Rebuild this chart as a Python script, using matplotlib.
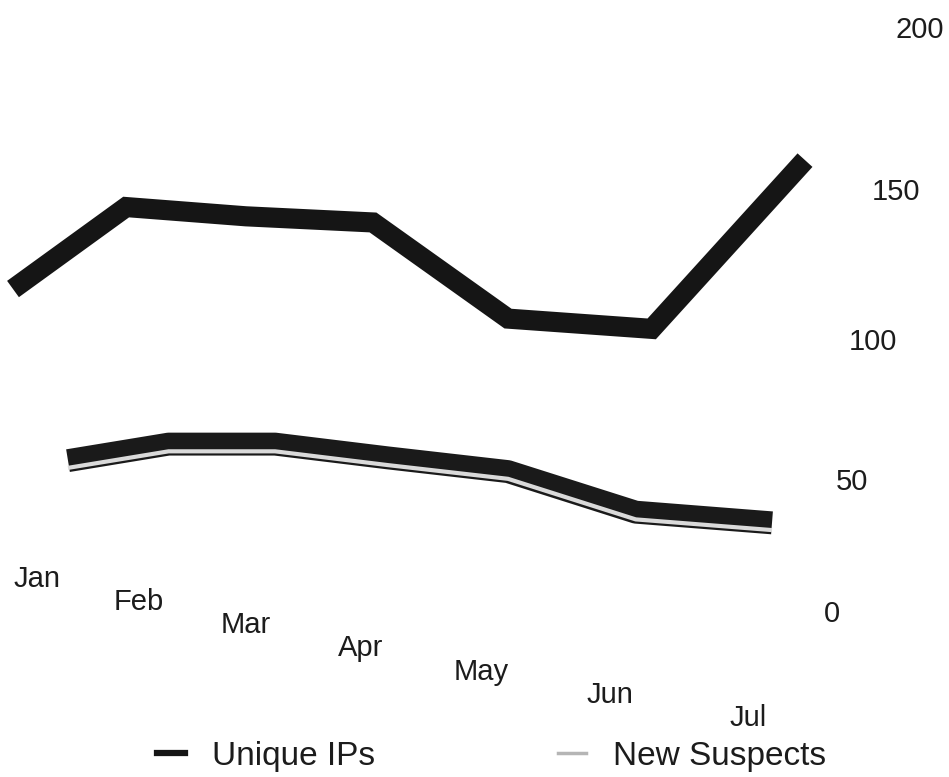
import numpy as np
import matplotlib
matplotlib.use("Agg")
import matplotlib.pyplot as plt
from matplotlib.lines import Line2D
from matplotlib.transforms import offset_copy

# ---- data ----
months = ["Jan", "Feb", "Mar", "Apr", "May", "Jun", "Jul"]
unique_ips = [118, 145, 142, 140, 108, 104.5, 160]
new_suspects = [58, 64, 64, 59, 54, 39, 35]
y_ticks = [0, 50, 100, 150, 200]
series_names = ["Unique IPs", "New Suspects"]

plt.rcParams['font.family'] = ['Liberation Sans', 'DejaVu Sans']
TXT = '#1c1c1c'

W, H = 949, 777
fig = plt.figure(figsize=(W / 100, H / 100), dpi=100)
fig.patch.set_facecolor('white')


def proj_scale(lo, hi, k):
    """Perspective (projective) scale: spacing grows towards hi."""
    span = hi - lo

    def fwd(v):
        t = (np.asarray(v, float) - lo) / span
        return lo + span * t / (1 + k - k * t)

    def inv(u):
        s = (np.asarray(u, float) - lo) / span
        return lo + span * s * (1 + k) / (1 + k * s)
    return fwd, inv


KX, KY = 0.2, 0.147
xs = np.arange(len(months))


def rect(x0, x1, ytop, ybot):
    return [x0 / W, (H - ybot) / H, (x1 - x0) / W, (ybot - ytop) / H]


def make_axes(r, xr, yr, kx, ky):
    ax = fig.add_axes(r)
    ax.set_xscale('function', functions=proj_scale(xr[0], xr[1], kx))
    ax.set_yscale('function', functions=proj_scale(yr[0], yr[1], ky))
    ax.set_xlim(*xr)
    ax.set_ylim(*yr)
    ax.axis('off')
    ax.patch.set_alpha(0)
    return ax


Y0, Y200 = 614, 30

# lower series (further back)
ax_l = make_axes(rect(68, 772, Y200, Y0), (0, 6), (0, 200), KX, KY)
ax_l.plot(xs, new_suspects, color='#1a1a1a', lw=16.5, solid_joinstyle='round',
          solid_capstyle='butt', clip_on=False)
ax_l.plot(xs, new_suspects, color='#dadada', lw=3.0, solid_joinstyle='round',
          solid_capstyle='butt', clip_on=False,
          transform=offset_copy(ax_l.transData, fig=fig, x=0, y=-5.2, units='points'))

# upper series
ax_u = make_axes(rect(13, 805, Y200, Y0), (0, 6), (0, 200), KX, KY)
ax_u.plot(xs, unique_ips, color='#151515', lw=14.5, solid_joinstyle='miter',
          solid_capstyle='butt', clip_on=False)

# month labels on a tilted baseline
ax_m = make_axes(rect(37, 748, 579, 718), (0, 6), (6, 0), KX, 0)
ax_m.set_yscale('linear')
ax_m.set_ylim(6, 0)
for i, m in enumerate(months):
    ax_m.text(i, i, m, ha='center', va='center', fontsize=21, color=TXT)

# value labels on the right, following the perspective
ax_v = make_axes(rect(832, 920, Y200, Y0), (0, 200), (0, 200), KY, KY)
for v in y_ticks:
    ax_v.text(v, v, str(v), ha='center', va='center', fontsize=21, color=TXT)

# legend
handles = [Line2D([], [], color='#151515', lw=4.5),
           Line2D([], [], color='#b5b5b5', lw=2.5)]
fig.legend(handles, series_names, loc='center', bbox_to_anchor=(0.518, 0.027),
           ncol=2, frameon=False, fontsize=24, handlelength=0.84,
           handletextpad=0.8, columnspacing=5.5, labelcolor=TXT)

fig.savefig("out.png", dpi=100, facecolor='white')
